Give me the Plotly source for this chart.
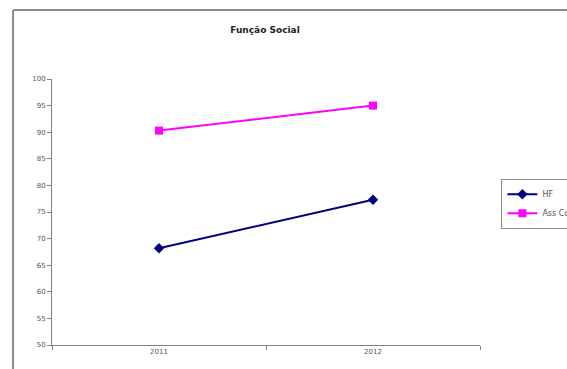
import plotly.graph_objects as go

years = ["2011", "2012"]
hf_values = [68.2, 77.3]
ass_values = [90.3, 95.0]
series_names = ["HF", "Ass Com"]
y_ticks = [50, 55, 60, 65, 70, 75, 80, 85, 90, 95, 100]

fig = go.Figure()
fig.add_trace(go.Scatter(
    x=years, y=hf_values, name=series_names[0], mode="lines+markers",
    line=dict(color="#000080", width=2),
    marker=dict(symbol="diamond", size=8, color="#000080"),
))
fig.add_trace(go.Scatter(
    x=years, y=ass_values, name=series_names[1], mode="lines+markers",
    line=dict(color="#FF00FF", width=2),
    marker=dict(symbol="square", size=8, color="#FF00FF"),
))

# chart frame: top and left edges of the outer border
frame = dict(color="#8c8c8c", width=2)
fig.add_shape(type="line", xref="paper", yref="paper",
              x0=-0.091, x1=1.3, y0=1.259, y1=1.259, line=frame)
fig.add_shape(type="line", xref="paper", yref="paper",
              x0=-0.091, x1=-0.091, y0=-0.2, y1=1.259, line=frame)

axis_font = dict(family="DejaVu Sans, Arial", size=7, color="#555555")

fig.update_layout(
    width=567, height=369,
    margin=dict(l=52, r=87, t=79, b=24, autoexpand=False),
    paper_bgcolor="white", plot_bgcolor="white",
    title=dict(text="<b>Função Social</b>", x=(265 / 567), xanchor="center",
               y=1 - 30 / 369, yanchor="middle",
               font=dict(family="DejaVu Sans, Arial", size=9, color="#222222")),
    xaxis=dict(type="category", tickson="boundaries", ticks="outside", ticklen=4,
               tickcolor="#808080", showline=True, linecolor="#808080", linewidth=1,
               showgrid=False, zeroline=False, tickfont=axis_font, range=[-0.5, 1.5]),
    yaxis=dict(range=[50, 100], tickvals=y_ticks, ticks="outside", ticklen=4,
               tickcolor="#808080", showline=True, linecolor="#808080", linewidth=1,
               showgrid=False, zeroline=False, tickfont=axis_font),
    legend=dict(x=1.05, y=0.625, xanchor="left", yanchor="top",
                bgcolor="white", bordercolor="#8c8c8c", borderwidth=1,
                font=dict(family="DejaVu Sans, Arial", size=8, color="#555555"),
                itemwidth=30, tracegroupgap=0),
    showlegend=True,
)

fig.write_html("out.html")
